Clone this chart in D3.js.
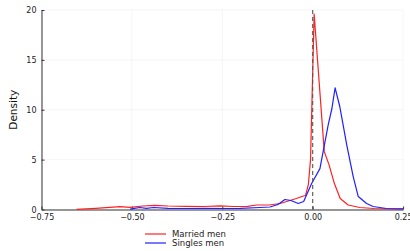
<!DOCTYPE html>
<html><head><meta charset="utf-8">
<script src="https://cdn.jsdelivr.net/npm/d3@7"></script>
<style>body{margin:0;background:#fff}svg{display:block;font-family:"DejaVu Sans",sans-serif}</style>
</head><body><svg id="c" width="410" height="251"></svg>
<script>
const xTicks = [-0.75, -0.5, -0.25, 0, 0.25];
const xTickLabels = ["\u22120.75", "\u22120.50", "\u22120.25", "0.00", "0.25"];
const yTicks = [0, 5, 10, 15, 20];
const seriesNames = ["Married men", "Singles men"];
const seriesColors = ["#ff2020", "#2020ff"];
const marriedX = [-0.653,-0.6,-0.533,-0.505,-0.47,-0.436,-0.4,-0.35,-0.3,-0.256,-0.22,-0.18,-0.155,-0.12,-0.09,-0.063,-0.045,-0.03,-0.02,-0.012,-0.006,0.004,0.032,0.045,0.06,0.076,0.098,0.13,0.17,0.21,0.25];
const marriedY = [0.02,0.12,0.28,0.22,0.35,0.42,0.35,0.32,0.3,0.36,0.3,0.32,0.45,0.45,0.6,0.9,1.1,1.3,1.4,2.5,5.0,19.6,5.8,4.5,2.6,1.1,0.45,0.2,0.1,0.06,0.05];
const singlesX = [-0.505,-0.478,-0.46,-0.44,-0.4,-0.35,-0.3,-0.25,-0.2,-0.146,-0.118,-0.096,-0.077,-0.06,-0.04,-0.025,-0.003,0.02,0.043,0.053,0.062,0.075,0.085,0.094,0.112,0.126,0.149,0.167,0.204,0.25];
const singlesY = [0.03,0.2,0.12,0.2,0.12,0.1,0.12,0.1,0.12,0.2,0.25,0.5,1.0,0.9,0.6,0.8,2.6,4.1,8.5,10.1,12.2,10.3,8.3,6.5,3.3,1.3,0.6,0.3,0.1,0.07];

const svg = d3.select("#c");
const L = 41.5, R = 403.1, T = 10, B = 209.5;
const x = d3.scaleLinear().domain([-0.75, 0.25]).range([L, R]);
const y = d3.scaleLinear().domain([0, 20]).range([B, T]);

// grid
svg.append("g").selectAll("line").data(xTicks).join("line")
  .attr("x1", d => x(d)).attr("x2", d => x(d)).attr("y1", T).attr("y2", B)
  .attr("stroke", "#000").attr("stroke-opacity", 0.07).attr("stroke-width", 0.6);
svg.append("g").selectAll("line").data(yTicks).join("line")
  .attr("x1", L).attr("x2", R).attr("y1", d => y(d)).attr("y2", d => y(d))
  .attr("stroke", "#000").attr("stroke-opacity", 0.07).attr("stroke-width", 0.6);

// axes
const xAxis = d3.axisBottom(x).tickValues(xTicks).tickFormat((d, i) => xTickLabels[i]).tickSizeInner(-3).tickSizeOuter(0).tickPadding(5);
const gx = svg.append("g").attr("transform", `translate(0,${B})`).call(xAxis);
const yAxis = d3.axisLeft(y).tickValues(yTicks).tickSizeInner(-3).tickSizeOuter(0).tickPadding(5);
const gy = svg.append("g").attr("transform", `translate(${L},0)`).call(yAxis);
[gx, gy].forEach(g => {
  g.select(".domain").attr("stroke", "#333").attr("stroke-width", 1);
  g.selectAll(".tick line").attr("stroke", "#333");
  g.selectAll("text").attr("fill", "#222").attr("font-size", 8).attr("font-family", "DejaVu Sans");
});

svg.append("text").attr("transform", `translate(17,${(T + B) / 2}) rotate(-90)`)
  .attr("text-anchor", "middle").attr("font-size", 10.5).attr("fill", "#111").text("Density");

// lines
const line = d3.line().x(d => x(d[0])).y(d => y(d[1]));
const series = [d3.zip(marriedX, marriedY), d3.zip(singlesX, singlesY)];
svg.append("g").selectAll("path").data(series).join("path")
  .attr("d", line).attr("fill", "none")
  .attr("stroke", (d, i) => seriesColors[i]).attr("stroke-width", 1.2).attr("stroke-linejoin", "round");

// vertical dashed line at 0
svg.append("line").attr("x1", x(0)).attr("x2", x(0)).attr("y1", T).attr("y2", B)
  .attr("stroke", "#555").attr("stroke-width", 1.1).attr("stroke-dasharray", "4,3");

// legend
const lg = svg.append("g").selectAll("g").data(seriesNames).join("g")
  .attr("transform", (d, i) => `translate(145,${234 + i * 9})`);
lg.append("line").attr("x1", 0).attr("x2", 21).attr("y1", 0).attr("y2", 0)
  .attr("stroke", (d, i) => seriesColors[i]).attr("stroke-width", 1.2);
lg.append("text").attr("x", 27).attr("y", 3).attr("font-size", 8.5).attr("fill", "#222").text(d => d);
</script></body></html>
